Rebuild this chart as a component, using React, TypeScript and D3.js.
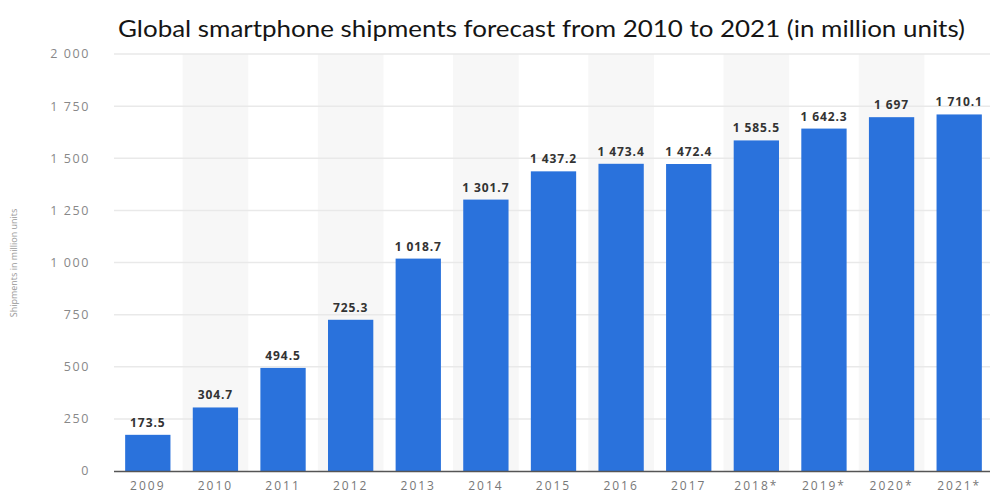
import React from "react";
import * as d3 from "d3";

const categories = ["2009", "2010", "2011", "2012", "2013", "2014", "2015", "2016", "2017", "2018*", "2019*", "2020*", "2021*"];
const values = [173.5, 304.7, 494.5, 725.3, 1018.7, 1301.7, 1437.2, 1473.4, 1472.4, 1585.5, 1642.3, 1697, 1710.1];
const yTicks = [0, 250, 500, 750, 1000, 1250, 1500, 1750, 2000];
const title = "Global smartphone shipments forecast from 2010 to 2021 (in million units)";
const yLabel = "Shipments in million units";

const W = 990, H = 494;

function fmt(v: number) {
  const s = d3.format(",")(v);
  return s.replace(/,/g, " ");
}

export default function App() {
  const x = d3.scaleBand<string>().domain(categories).range([114, 993]).paddingInner(0.33).paddingOuter(0.165);
  const xFull = d3.scaleBand<string>().domain(categories).range([114, 993]).padding(0);
  const y = d3.scaleLinear().domain([0, 2000]).range([471, 54]);
  return (
    <svg width={W} height={H} style={{ position: "absolute", left: 0, top: 0, background: "#fff" }}>
      <text x={118} y={37} fontFamily="Lato" fontSize={23} fill="#151515" textLength={847} lengthAdjust="spacingAndGlyphs">{title}</text>
      {categories.map((c, i) => i % 2 === 1 ? (
        <rect key={"s" + c} x={xFull(c)! + 1} y={y(2000)} width={xFull.bandwidth() - 2} height={y(0) - y(2000)} fill="#f7f7f7" />
      ) : null)}
      {yTicks.map(t => (
        <g key={t}>
          {t > 0 && <line x1={114} x2={990} y1={y(t)} y2={y(t)} stroke="#e9e9e9" strokeWidth={1.5} />}
          <text x={90} y={y(t)} dy="0.35em" textAnchor="end" fontFamily="Open Sans" fontSize={12.5} fill="#888" letterSpacing={1.6}>{fmt(t)}</text>
        </g>
      ))}
      {categories.map((c, i) => (
        <g key={c}>
          <rect x={x(c)} y={y(values[i])} width={x.bandwidth()} height={y(0) - y(values[i])} fill="#2a72dc" />
          <text x={x(c)! + x.bandwidth() / 2} y={y(values[i]) - 8} textAnchor="middle" fontFamily="Open Sans" fontWeight="bold" fontSize={12} fill="#333" letterSpacing={0.9}>{fmt(values[i])}</text>
          <text x={x(c)! + x.bandwidth() / 2} y={490} textAnchor="middle" fontFamily="Open Sans" fontSize={12} fill="#777" letterSpacing={2}>{c}</text>
        </g>
      ))}
      <line x1={114} x2={990} y1={y(0) + 0.5} y2={y(0) + 0.5} stroke="#555" strokeWidth={1.5} />
      <text transform={`translate(17,${263}) rotate(-90)`} textAnchor="middle" fontFamily="Open Sans" fontSize={9} fill="#999">{yLabel}</text>
    </svg>
  );
}
